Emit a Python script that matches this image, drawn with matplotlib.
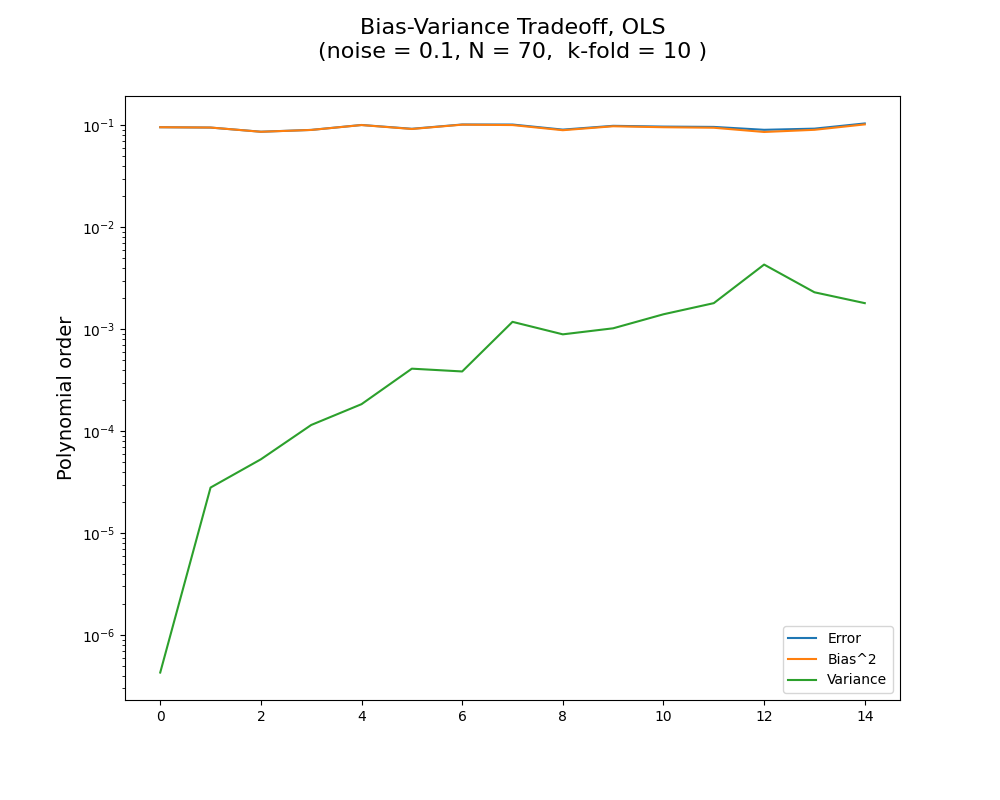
import numpy as np
import matplotlib
matplotlib.use("Agg")
import matplotlib.pyplot as plt

degrees = np.arange(15)
error = [0.0955, 0.0948, 0.0863, 0.0899, 0.1005, 0.0922, 0.1016, 0.1015,
         0.0905, 0.0986, 0.0969, 0.0962, 0.0901, 0.0925, 0.1040]
bias = [0.0955, 0.0948, 0.0862, 0.0898, 0.1003, 0.0918, 0.1012, 0.1003,
        0.0893, 0.0976, 0.0955, 0.0944, 0.0858, 0.0901, 0.1018]
variance = [4.3e-7, 2.8e-5, 5.3e-5, 1.15e-4, 1.84e-4, 4.1e-4, 3.85e-4, 1.18e-3,
            8.9e-4, 1.02e-3, 1.4e-3, 1.8e-3, 4.3e-3, 2.3e-3, 1.8e-3]

fig = plt.figure(figsize=(10, 8), dpi=100)
plt.subplots_adjust(left=0.125, right=0.9, top=0.88, bottom=0.125)
plt.plot(degrees, error, label="Error")
plt.plot(degrees, bias, label="Bias^2")
plt.plot(degrees, variance, label="Variance")
plt.yscale("log")
plt.ylabel("Polynomial order", fontsize=14)
plt.title("Bias-Variance Tradeoff, OLS\n(noise = 0.1, N = 70,  k-fold = 10 )\n",
          fontsize=16, pad=11)
plt.legend(loc="lower right")
plt.savefig("out.png", dpi=100)
